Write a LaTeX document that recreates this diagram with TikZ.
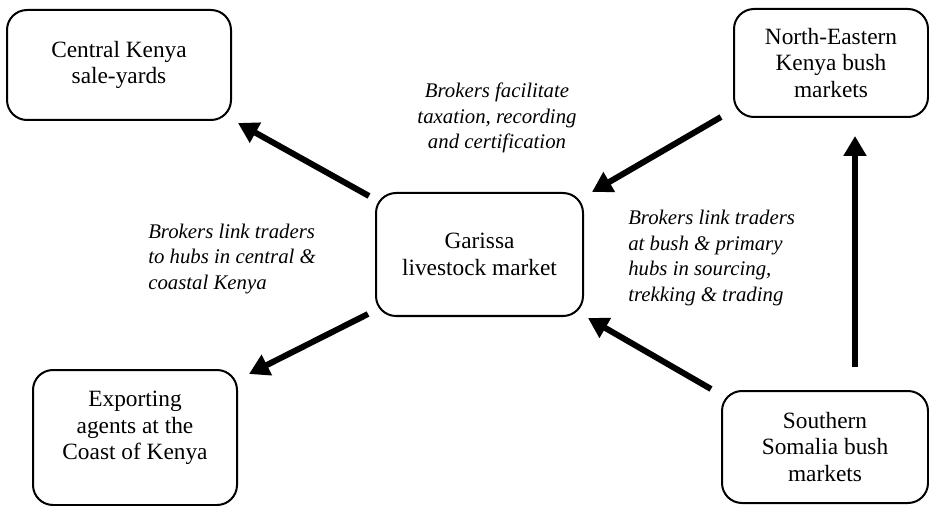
\documentclass[tikz,border=0pt]{standalone}
\usepackage{fontspec}
\setmainfont{Liberation Serif}
\usepackage{tikz}
\usetikzlibrary{positioning,arrows.meta}

\tikzset{
    market/.style={draw,
        rounded corners=15pt,
        line width=1.5pt,
        align=center,
        font=\fontsize{17.5}{20}\selectfont
    },
    broker/.style={inner sep=0pt,
        align=left,
        font=\fontsize{15.6}{19.2}\selectfont\itshape
    },
    flow/.style={line width=4.5pt,
        -{Triangle[length=15pt,width=16.5pt]}
    }
}

\begin{document}
\begin{tikzpicture}[x=0.75pt,y=-0.75pt]

    \useasboundingbox (0,0) rectangle (929,506);

    % Garissa
    \node [market,
        minimum width=155.25pt,
        minimum height=92.25pt
    ] (garissa) at (479.5,254.5) {Garissa\\livestock market};

    % central
    \node [market,
        minimum width=168pt,
        minimum height=82.5pt
    ] (central) at (119,65) {Central Kenya\\sale-yards};

    % north east
    \node [market,
        minimum width=145.5pt,
        minimum height=81pt
    ] (northeast) at (831,63) {North-Eastern\\Kenya bush\\markets};

    % exporting
    \node [market,
        minimum width=153pt,
        minimum height=101.25pt
    ] (exporting) at (135,437.5) {};
    \node [market, draw=none] (exportingtext) at (135,428)
        {Exporting\\agents at the\\Coast of Kenya};

    % somalia
    \node [market,
        minimum width=154.5pt,
        minimum height=84pt
    ] (somalia) at (825,447) {Southern\\Somalia bush\\markets};

    % Arrows
    \draw[flow] ([shift={(-6,4)}]garissa.north west)
        -- ([shift={(6,2)}]central.south east);

    \draw[flow] ([shift={(-12,-1)}]northeast.south west)
        -- ([shift={(8,0)}]garissa.north east);

    \draw[flow] ([shift={(-7,-3)}]garissa.south west)
        -- ([shift={(11,5)}]exporting.north east);

    \draw[flow] ([shift={(-10,-1)}]somalia.north west)
        -- ([shift={(4,1)}]garissa.south east);

    \draw[flow] ([shift={(30,-23)}]somalia.north)
        -- ([shift={(24,18)}]northeast.south);

    % broker texts
    \node [broker, align=center] (taxation) at (497,118)
        {Brokers facilitate\\taxation, recording\\and certification};

    \node [broker, anchor=west] (coastlink) at (148,259)
        {Brokers link traders\\to hubs in central \&\\coastal Kenya};

    \node [broker, anchor=west] (bushlink) at (628,258)
        {Brokers link traders\\at bush \& primary\\hubs in sourcing,\\trekking \& trading};

\end{tikzpicture}
\end{document}
